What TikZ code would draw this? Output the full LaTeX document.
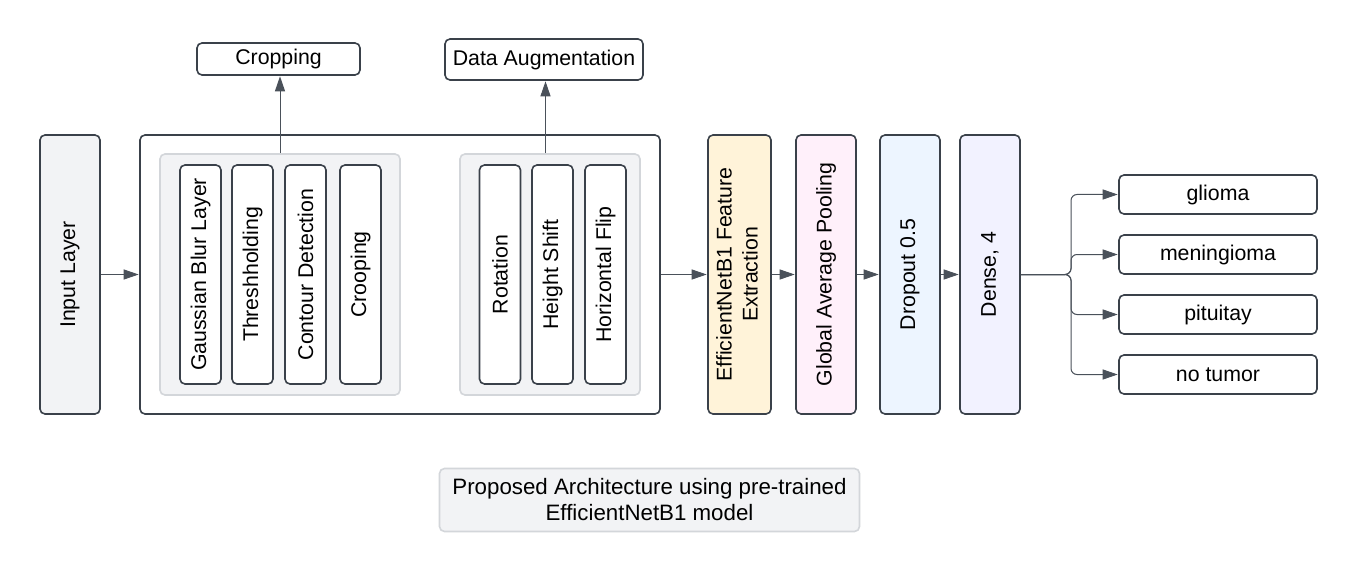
\documentclass[tikz,border=0pt]{standalone}
\usepackage{fontspec}
\setmainfont{Liberation Sans}
\usetikzlibrary{arrows.meta}
\definecolor{stk}{HTML}{3A414A}
\definecolor{lnk}{HTML}{4A515A}
\definecolor{grayf}{HTML}{F2F3F5}
\definecolor{grayd}{HTML}{D3D6DA}
\definecolor{yel}{HTML}{FFF3D9}
\definecolor{pnk}{HTML}{FFF0FA}
\definecolor{blu}{HTML}{EDF5FF}
\definecolor{lav}{HTML}{F2F2FF}
\tikzset{
  box/.style={draw=stk, line width=1.6pt, rounded corners=5pt, inner sep=0pt, fill=white},
  grp/.style={draw=grayd, line width=1.6pt, rounded corners=5pt, inner sep=0pt, fill=grayf},
  conn/.style={draw=lnk, line width=1pt, -{Triangle[length=15pt,width=10pt]}, shorten >=0.5pt},
}
\newcommand{\vt}[1]{\rotatebox{90}{#1}}
\begin{document}
\begin{tikzpicture}[x=1pt,y=-1pt,font=\fontsize{21.3}{25}\selectfont]
\fill[white] (0,0) rectangle (1357,572);
\useasboundingbox (0,0) rectangle (1357,572);
% input
\node[box, fill=grayf, minimum width=60pt, minimum height=279pt] (inp) at (70,274.5) {\vt{Input Layer}};
% big box
\node[box, minimum width=520pt, minimum height=279pt] (big) at (400,274.5) {};
% groups
\node[grp, minimum width=240pt, minimum height=241pt] (g1) at (280,274.5) {};
\node[grp, minimum width=180pt, minimum height=241pt] (g2) at (550,274.5) {};
% inner boxes
\node[box, minimum width=41pt, minimum height=219pt] (gb) at (200.5,274.5) {\vt{Gaussian Blur Layer}};
\node[box, minimum width=41pt, minimum height=219pt] (th) at (252.5,274.5) {\vt{Threshholding}};
\node[box, minimum width=41pt, minimum height=219pt] (cd) at (305.5,274.5) {\vt{Contour Detection}};
\node[box, minimum width=41pt, minimum height=219pt] (cr) at (360.5,274.5) {\vt{Crooping}};
\node[box, minimum width=41pt, minimum height=219pt] (ro) at (500,274.5) {\vt{Rotation}};
\node[box, minimum width=41pt, minimum height=219pt] (hs) at (552.5,274.5) {\vt{Height Shift}};
\node[box, minimum width=41pt, minimum height=219pt] (hf) at (605.5,274.5) {\vt{Horizontal Flip}};
% top labels
\node[box, minimum width=163pt, minimum height=32pt] (crop) at (278.5,59) {Cropping};
\node[box, minimum width=198pt, minimum height=41pt] (da) at (544,59.5) {Data Augmentation};
% pipeline
\node[box, fill=yel, minimum width=63pt, minimum height=279pt] (eff) at (739.5,274.5) {\vt{\begin{tabular}{@{}c@{}}EfficientNetB1 Feature\\[1pt]Extraction\end{tabular}}};
\node[box, fill=pnk, minimum width=60pt, minimum height=279pt] (gap) at (826,274.5) {\vt{Global Average Pooling}};
\node[box, fill=blu, minimum width=60pt, minimum height=279pt] (dro) at (910,274.5) {\vt{Dropout 0.5}};
\node[box, fill=lav, minimum width=60pt, minimum height=279pt] (den) at (990,274.5) {\vt{Dense, 4}};
% outputs
\node[box, minimum width=198pt, minimum height=39pt] (o1) at (1218,194.5) {glioma};
\node[box, minimum width=198pt, minimum height=39pt] (o2) at (1218,254.5) {meningioma};
\node[box, minimum width=198pt, minimum height=39pt] (o3) at (1218,314.5) {pituitay};
\node[box, minimum width=198pt, minimum height=39pt] (o4) at (1218,374.5) {no tumor};
% caption
\node[grp, draw=grayd, minimum width=420pt, minimum height=63pt, align=center, font=\fontsize{22.3}{26}\selectfont] (cap) at (649.5,500) {Proposed Architecture using pre-trained\\EfficientNetB1 model};
% connectors
\draw[conn] (inp.east) -- (big.west);
\draw[conn] (g1.north -| 280,0) -- (crop.south -| 280,0);
\draw[conn] (g2.north -| 545.5,0) -- (da.south -| 545.5,0);
\draw[conn] (big.east) -- (eff.west);
\draw[conn] (eff.east) -- (gap.west);
\draw[conn] (gap.east) -- (dro.west);
\draw[conn] (dro.east) -- (den.west);
\coordinate (br) at (1071,274.5);
\foreach \o in {o1,o2,o3,o4}{
  \draw[conn, rounded corners=6pt] (den.east) -- (br) |- (\o.west);
}
\end{tikzpicture}
\end{document}
